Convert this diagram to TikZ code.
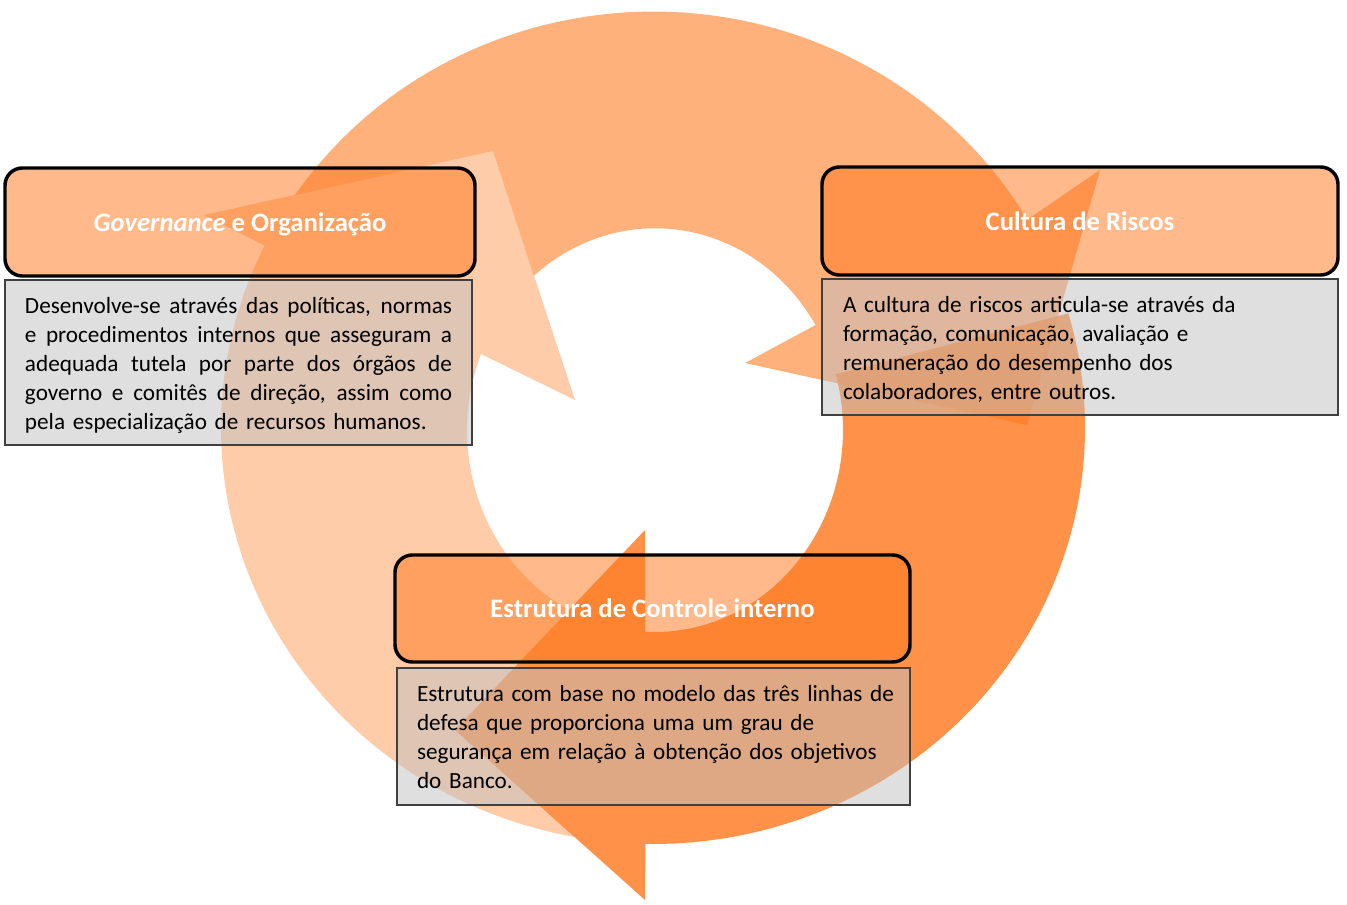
\documentclass[tikz,border=0pt]{standalone}
\usepackage{fontspec}
\setmainfont{Carlito}
\usetikzlibrary{calc}
\definecolor{arrowor}{RGB}{255,120,30}
\definecolor{boxor}{RGB}{255,120,30}
\definecolor{boxgray}{RGB}{191,191,191}
\definecolor{boxline}{RGB}{64,64,64}
\newcommand{\firststrut}{\rule{0pt}{19.8pt}}
\newcommand{\jline}[1]{\leavevmode\hbox to 320.25pt{\spaceskip=0.226em plus 1em minus 0.05em\relax #1}}
\begin{document}
\begin{tikzpicture}[x=0.75pt,y=-0.75pt,
  seg/.style={fill=arrowor, draw=none},
  titlebox/.style={draw=black, line width=2.6pt, rounded corners=13pt, fill=boxor, fill opacity=0.52, text opacity=1, text=white, font=\fontsize{20}{24}\selectfont\bfseries, inner sep=0pt, text height=14.5pt, text depth=0.6pt},
  textbox/.style={draw=boxline, line width=0.9pt, fill=boxgray, fill opacity=0.5, text opacity=1, text=black, font=\fontsize{17.4}{21.8}\selectfont, inner ysep=0pt, align=left}
]
\useasboundingbox (0,0) rectangle (1347,904);
% light arrow (left side)
\fill[seg, fill opacity=0.38] (575,837) arc[start angle=100.4, end angle=206, x radius=432, y radius=416] -- (204,215) -- (493,151) -- (575,400) -- (481,354) arc[start angle=202.2, end angle=117.2, x radius=188, y radius=202] -- (455,730) -- cycle;
% medium arrow (top)
\fill[seg, fill opacity=0.58] (295,195) arc[start angle=214, end angle=330, x radius=432, y radius=416] -- (1100,170) -- (1027,425) -- (745,363) -- (815.5,325) arc[start angle=328.6, end angle=229.9, x radius=188, y radius=202] -- (493,151) -- cycle;
% dark arrow (right side)
\fill[seg, fill opacity=0.81] (1068.3,313.3) arc[start angle=-16, end angle=91, x radius=432, y radius=416] -- (645,900) -- (455,730) -- (645,530) -- (645,631.7) arc[start angle=93.05, end angle=-16, x radius=188, y radius=202] -- cycle;

% title boxes
\node[titlebox, minimum width=352.5pt, minimum height=81pt] (gov) at (240,222) {\textit{Governance} e Organização};
\node[titlebox, minimum width=387pt, minimum height=81pt] (cult) at (1080,221) {Cultura de Riscos};
\node[titlebox, minimum width=386.25pt, minimum height=80.25pt] (estr) at (652.5,608.5) {Estrutura de Controle interno};

% text boxes
\node[textbox, text width=320.25pt, inner xsep=15pt, minimum height=123.75pt] (govtxt) at (238.5,362.5) {%
\firststrut\jline{Desenvolve-se através das políticas, normas}\\
\jline{e procedimentos internos que asseguram a}\\
\jline{adequada tutela por parte dos órgãos de}\\
\jline{governo e comitês de direção, assim como}\\
pela especialização de recursos humanos.\strut};
\node[textbox, text width=355.5pt, inner xsep=15.75pt, minimum height=102pt] (culttxt) at (1080,347) {%
\firststrut A cultura de riscos articula-se através da\\
formação, comunicação, avaliação e\\
remuneração do desempenho dos\\
colaboradores, entre outros.\strut};
\node[textbox, text width=354.75pt, inner xsep=15pt, minimum height=102.75pt] (estrtxt) at (653.5,736.5) {%
\firststrut\mbox{Estrutura com base no modelo das três linhas de}\\
defesa que proporciona uma um grau de\\
\mbox{segurança em relação à obtenção dos objetivos}\\
do Banco.\strut};
\end{tikzpicture}
\end{document}
